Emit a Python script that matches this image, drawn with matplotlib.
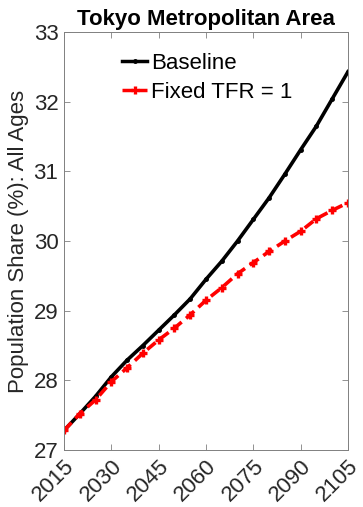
import numpy as np
import matplotlib.pyplot as plt

plt.rcParams['font.family'] = ['Liberation Sans', 'DejaVu Sans']

years = np.arange(2015, 2106, 5)
baseline = [27.28, 27.52, 27.77, 28.05, 28.29, 28.50, 28.72, 28.94, 29.17, 29.45,
            29.71, 30.00, 30.31, 30.62, 30.96, 31.31, 31.65, 32.04, 32.43]
fixed_tfr = [27.28, 27.52, 27.72, 27.98, 28.18, 28.39, 28.58, 28.75, 28.94, 29.15,
             29.33, 29.53, 29.69, 29.85, 30.00, 30.14, 30.32, 30.44, 30.55]
xticks = np.arange(2015, 2106, 15)

fig = plt.figure(figsize=(3.63, 5.07), dpi=100)
ax = fig.add_axes([64 / 363, 57 / 507, 284 / 363, 418 / 507])

ax.plot(years, baseline, color='black', lw=2.6, marker='.', ms=5, label='Baseline')
ax.plot(years, fixed_tfr, color='red', lw=2.6, ls=(0, (3, 1.6)), marker='+', ms=6,
        mew=2.4, label='Fixed TFR = 1')

ax.set_xlim(2015, 2105)
ax.set_ylim(27, 33)
ax.set_xticks(xticks)
ax.set_yticks(range(27, 34))
ax.tick_params(direction='in', top=True, right=True, length=4, width=0.6,
               color='#808080', labelsize=16, labelcolor='#262626', pad=4)
plt.setp(ax.get_xticklabels(), rotation=45, ha='right', rotation_mode='anchor')
for s in ax.spines.values():
    s.set_color('#808080')
    s.set_linewidth(0.7)

ax.set_ylabel('Population Share (%): All Ages', fontsize=16, color='#262626', labelpad=3)
ax.set_title('Tokyo Metropolitan Area', fontsize=16, fontweight='bold', pad=5)

leg = ax.legend(loc='upper left', bbox_to_anchor=(0.204, 0.95), frameon=False,
                fontsize=16, handlelength=1.15, handletextpad=0.15, labelspacing=0.35,
                borderpad=0, borderaxespad=0)
for h in leg.get_lines():
    h.set_linewidth(2.5)

fig.savefig('out.png', dpi=100)
